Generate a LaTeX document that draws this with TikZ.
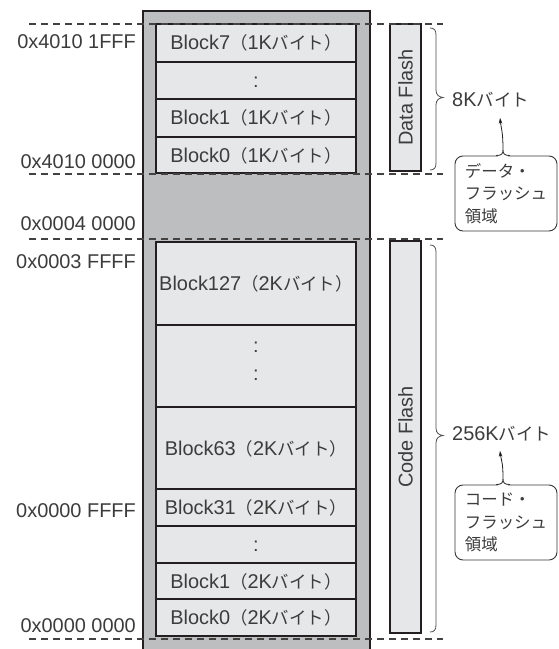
\documentclass[tikz,border=0pt]{standalone}
\usepackage{fontspec}
\setmainfont{Liberation Sans}
\newfontfamily\jpf{Noto Sans CJK JP}
\usetikzlibrary{calc,arrows.meta}
\definecolor{boxgray}{HTML}{BCBEC0}
\definecolor{blkfill}{HTML}{E6E7E8}
\definecolor{ink}{HTML}{231F20}
\definecolor{txt}{HTML}{3C3C3C}
\newcommand\jp[1]{{\jpf\fontsize{17.5}{17.5}\selectfont #1}}
\begin{document}
\begin{tikzpicture}[x=1bp,y=-1bp,
  lbl/.style={inner sep=0pt, text=txt, font=\fontsize{20}{24}\selectfont},
  blk/.style={draw=ink, line width=1.6bp, fill=blkfill, minimum width=200bp,
    inner sep=0pt, text=txt, font=\fontsize{20}{24}\selectfont},
  vbox/.style={draw=ink, line width=1.6bp, fill=blkfill, rotate=90,
    minimum height=31bp, inner sep=0pt, text=txt, font=\fontsize{20}{24}\selectfont},
  dline/.style={draw=ink!85, line width=1.2bp, dash pattern=on 7bp off 5bp},
  brc/.style={draw=ink!80, line width=0.8bp},
  callout/.style={draw=ink!90, line width=0.9bp, rounded corners=8bp, fill=white,
    minimum width=102bp, minimum height=75bp, inner sep=0pt, align=left,
    text=txt, font=\jpf\fontsize{16.5}{22.5}\selectfont},
  arr/.style={draw=ink, line width=0.8bp, -{Stealth[length=6bp,width=3.6bp]}}]
\useasboundingbox (0,0) rectangle (559,649);
\fill[white] (0,0) rectangle (559,649);
% outer memory column
\fill[boxgray] (143,11) rectangle (370,649);
\draw[ink, line width=1.3bp] (143,649) -- (143,11) -- (370,11) -- (370,649);
% data flash blocks
\node[blk, minimum height=38bp] (d7) at (256,43) {};
\node[lbl, anchor=base] (d7t) at (256,50) {Block7\jp{（}1K\jp{バイト）}};
\node[blk, minimum height=37bp] (ddots) at (256,80.5) {};
\node[lbl, anchor=base] (ddotst) at (256,87.7) {:};
\node[blk, minimum height=38bp] (d1) at (256,118) {};
\node[lbl, anchor=base] (d1t) at (256,125) {Block1\jp{（}1K\jp{バイト）}};
\node[blk, minimum height=36bp] (d0) at (256,155) {};
\node[lbl, anchor=base] (d0t) at (256,162) {Block0\jp{（}1K\jp{バイト）}};
% code flash blocks
\node[blk, minimum height=83bp] (c127) at (256,283.5) {};
\node[lbl, anchor=base] (c127t) at (256,290.5) {Block127\jp{（}2K\jp{バイト）}};
\node[blk, minimum height=82bp] (cdots) at (256,366) {};
\node[lbl, anchor=base] (cdotsa) at (256,352.7) {:};
\node[lbl, anchor=base] (cdotsb) at (256,380.2) {:};
\node[blk, minimum height=82bp] (c63) at (256,448) {};
\node[lbl, anchor=base] (c63t) at (256,455) {Block63\jp{（}2K\jp{バイト）}};
\node[blk, minimum height=37bp] (c31) at (256,507.5) {};
\node[lbl, anchor=base] (c31t) at (256,514.5) {Block31\jp{（}2K\jp{バイト）}};
\node[blk, minimum height=37bp] (cdd) at (256,544.5) {};
\node[lbl, anchor=base] (cddt) at (256,551) {:};
\node[blk, minimum height=36bp] (c1) at (256,581) {};
\node[lbl, anchor=base] (c1t) at (256,588) {Block1\jp{（}2K\jp{バイト）}};
\node[blk, minimum height=37bp] (c0) at (256,617.5) {};
\node[lbl, anchor=base] (c0t) at (256,624.5) {Block0\jp{（}2K\jp{バイト）}};
% vertical region boxes
\node[vbox, minimum width=147bp] (df) at (405.5,97.5) {Data Flash};
\node[vbox, minimum width=392bp] (cf) at (405.5,437) {Code Flash};
% dashed boundaries
\coordinate (l1) at (29,24);  \coordinate (r1) at (443,24);
\coordinate (l2) at (29,174); \coordinate (r2) at (443,174);
\coordinate (l3) at (29,239); \coordinate (r3) at (443,239);
\coordinate (l4) at (29,639); \coordinate (r4) at (443,639);
\draw[dline] (l1) -- (r1);
\draw[dline] (l2) -- (r2);
\draw[dline] (l3) -- (r3);
\draw[dline] (l4) -- (r4);
% address labels
\node[lbl, anchor=base east] (a1) at (136,49) {0x4010 1FFF};
\node[lbl, anchor=base east] (a2) at (136,168) {0x4010 0000};
\node[lbl, anchor=base east] (a3) at (136,230) {0x0004 0000};
\node[lbl, anchor=base east] (a4) at (136,268) {0x0003 FFFF};
\node[lbl, anchor=base east] (a5) at (136,517) {0x0000 FFFF};
\node[lbl, anchor=base east] (a6) at (136,632) {0x0000 0000};
% braces
\draw[brc] (430,28) .. controls (434,28) and (436,30) .. (436,35) -- (436,90)
  .. controls (436,95) and (439,97) .. (443,97.5)
  .. controls (439,98) and (436,100) .. (436,105) -- (436,163)
  .. controls (436,168) and (434,170) .. (430,170);
\draw[brc] (430,245) .. controls (434,245) and (436,247) .. (436,252) -- (436,428)
  .. controls (436,433) and (439,435) .. (443,435.5)
  .. controls (439,436) and (436,438) .. (436,443) -- (436,625)
  .. controls (436,630) and (434,632) .. (430,632);
% size labels
\node[lbl, anchor=base west] (s8) at (452,107) {8K\jp{バイト}};
\node[lbl, anchor=base west] (s256) at (452,440) {256K\jp{バイト}};
% callouts
\node[callout] (cd) at (506,193.5) {データ・\\フラッシュ\\領域};
\node[callout] (cc) at (506,522.5) {コード・\\フラッシュ\\領域};
\coordinate (cdtop) at ($(cd.north)+(-3,0)$);
\coordinate (cdc) at ($(cdtop)+(0,-6)$);
\coordinate (t8) at ($(s8.south west)+(48,10)$);
\coordinate (cctop) at ($(cc.north)+(-3,0)$);
\coordinate (ccc) at ($(cctop)+(0,-6)$);
\coordinate (t256) at ($(s256.south west)+(48,10)$);
\draw[white, line width=2bp] ($(cdtop)+(-5,0)$) -- ($(cdtop)+(5,0)$);
\draw[white, line width=2bp] ($(cctop)+(-5,0)$) -- ($(cctop)+(5,0)$);
\draw[ink!90, line width=0.9bp] ($(cdtop)+(-7,0)$) .. controls ($(cdtop)+(-1,0)$) and ($(cdtop)+(0,-2)$) .. (cdc)
  .. controls ($(cdtop)+(0,-2)$) and ($(cdtop)+(1,0)$) .. ($(cdtop)+(7,0)$);
\draw[ink!90, line width=0.9bp] ($(cctop)+(-7,0)$) .. controls ($(cctop)+(-1,0)$) and ($(cctop)+(0,-2)$) .. (ccc)
  .. controls ($(cctop)+(0,-2)$) and ($(cctop)+(1,0)$) .. ($(cctop)+(7,0)$);
\draw[arr] (cdc) .. controls ($(cdc)+(0,-18)$) and ($(t8)+(1,10)$) .. (t8);
\draw[arr] (ccc) .. controls ($(ccc)+(0,-18)$) and ($(t256)+(1,10)$) .. (t256);
\end{tikzpicture}
\end{document}
